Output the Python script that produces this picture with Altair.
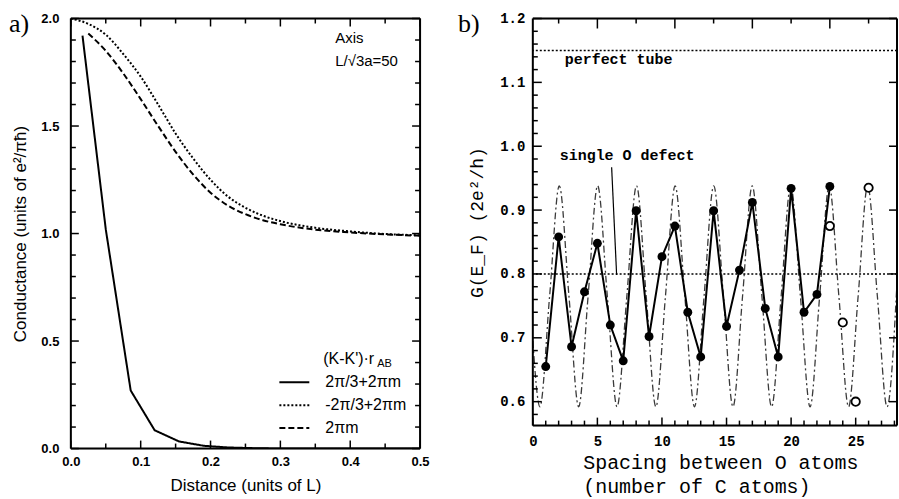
import altair as alt
import pandas as pd

# ---------------- panel a values ----------------
series_names = ["2π/3+2πm", "-2π/3+2πm", "2πm"]
dist_solid = [0.0167, 0.05, 0.0857, 0.12, 0.155, 0.19, 0.225, 0.26, 0.30, 0.40, 0.50]
cond_solid = [1.92, 1.02, 0.27, 0.085, 0.033, 0.013, 0.005, 0.002, 0.0, 0.0, 0.0]
dist_dotted = [0.0, 0.025, 0.05, 0.075, 0.10, 0.125, 0.15, 0.175, 0.20, 0.225, 0.25,
               0.275, 0.30, 0.35, 0.40, 0.45, 0.50]
cond_dotted = [2.0, 1.975, 1.925, 1.835, 1.73, 1.60, 1.465, 1.35, 1.25, 1.172, 1.12,
               1.083, 1.058, 1.027, 1.01, 0.998, 0.992]
dist_dashed = [0.025, 0.05, 0.075, 0.10, 0.125, 0.15, 0.175, 0.20, 0.225, 0.25, 0.275,
               0.30, 0.35, 0.40, 0.45, 0.50]
cond_dashed = [1.93, 1.85, 1.745, 1.625, 1.50, 1.38, 1.275, 1.19, 1.13, 1.09, 1.062,
               1.043, 1.018, 1.005, 0.996, 0.99]

a_x_domain = [0.0, 0.5]
a_y_domain = [0.0, 2.0]
a_x_major = [0.0, 0.1, 0.2, 0.3, 0.4, 0.5]
a_x_minor = [0.05, 0.15, 0.25, 0.35, 0.45]
a_y_major = [0.0, 0.5, 1.0, 1.5, 2.0]
a_y_minor = [0.1, 0.2, 0.3, 0.4, 0.6, 0.7, 0.8, 0.9, 1.1, 1.2, 1.3, 1.4, 1.6, 1.7, 1.8, 1.9]

# ---------------- panel b values ----------------
spacing_filled = list(range(1, 24))
g_filled = [0.655, 0.858, 0.686, 0.772, 0.848, 0.720, 0.664, 0.899, 0.702, 0.827,
            0.875, 0.740, 0.670, 0.899, 0.718, 0.806, 0.912, 0.746, 0.670, 0.934,
            0.740, 0.768, 0.937]
spacing_open = [23, 24, 25, 26]
g_open = [0.875, 0.724, 0.600, 0.935]
sine_x = [0.0, 0.55, 1.30, 2.05, 2.80, 3.55, 4.28, 5.02, 5.77, 6.52, 7.28, 8.03, 8.78,
          9.53, 10.27, 11.02, 11.77, 12.52, 13.26, 14.01, 14.76, 15.50, 16.24, 16.99,
          17.74, 18.49, 19.23, 19.97, 20.72, 21.47, 22.21, 22.95, 23.70, 24.45, 25.19,
          25.93, 26.68, 27.43, 28.2]
sine_g = [0.695, 0.592, 0.765, 0.938, 0.765, 0.592, 0.765, 0.938, 0.765, 0.592, 0.765,
          0.938, 0.765, 0.592, 0.765, 0.938, 0.765, 0.592, 0.765, 0.938, 0.765, 0.592,
          0.765, 0.938, 0.765, 0.592, 0.765, 0.938, 0.765, 0.592, 0.765, 0.938, 0.765,
          0.592, 0.765, 0.938, 0.765, 0.592, 0.786]
ref_levels = [1.15, 0.80]

b_x_domain = [0.0, 28.2]
b_y_domain = [0.5625, 1.2]
b_x_major = [0, 5, 10, 15, 20, 25]
b_x_minor = [v for v in range(1, 29) if v % 5 != 0]
b_x_top_long = [5, 11, 17, 23]
b_x_top_short = [2, 8, 14, 20, 26]
b_y_major = [0.6, 0.7, 0.8, 0.9, 1.0, 1.1, 1.2]
b_y_minor = [round(0.58 + 0.02 * i, 2) for i in range(31) if i % 5 != 1]

A_W, A_H = 350, 431
B_W, B_H = 365, 408

A_DOM_X = alt.Scale(domain=a_x_domain, nice=False, zero=False)
A_DOM_Y = alt.Scale(domain=a_y_domain, nice=False, zero=False)
B_DOM_X = alt.Scale(domain=b_x_domain, nice=False, zero=False)
B_DOM_Y = alt.Scale(domain=b_y_domain, nice=False, zero=False)

# ---------------- axes (one shared spec per channel, used by every layer) ----------------
a_x_main = alt.Axis(orient="bottom", values=a_x_major, format=".1f", ticks=False,
                    domain=False, grid=False,
                    labelFont="Liberation Sans", labelFontSize=13, labelFontWeight="bold",
                    labelColor="black", labelPadding=7, labelFlush=False,
                    title="Distance (units of L)", titleFont="Liberation Sans",
                    titleFontSize=17, titleFontWeight="normal", titleColor="black",
                    titlePadding=9)
a_y_main = alt.Axis(orient="left", values=a_y_major, format=".1f", ticks=False,
                    domain=False, grid=False,
                    labelFont="Liberation Sans", labelFontSize=13, labelFontWeight="bold",
                    labelColor="black", labelPadding=12, labelFlush=False,
                    title="Conductance (units of e²/πħ)", titleFont="Liberation Sans",
                    titleFontSize=17, titleFontWeight="normal", titleColor="black",
                    titlePadding=11)
b_x_main = alt.Axis(orient="bottom", values=b_x_major, format="d", ticks=False,
                    domain=False, grid=False,
                    labelFont="Liberation Mono", labelFontSize=14, labelFontWeight="bold",
                    labelColor="black", labelPadding=9, labelFlush=False,
                    title=["Spacing between O atoms", "(number of C atoms)"],
                    titleFont="Liberation Mono", titleFontSize=20, titleFontWeight="normal",
                    titleColor="black", titleAlign="left", titleAnchor="start",
                    titleBaseline="top", titleX=50, titleY=27, titleLineHeight=24)
b_y_main = alt.Axis(orient="left", values=b_y_major, format=".1f", ticks=False,
                    domain=False, grid=False,
                    labelFont="Liberation Mono", labelFontSize=14, labelFontWeight="bold",
                    labelColor="black", labelPadding=8, labelFlush=False,
                    title="G(E_F)  (2e²/h)", titleFont="Liberation Mono", titleFontSize=18,
                    titleFontWeight="normal", titleColor="black", titlePadding=13)

# ---------------- inward tick marks and frame (drawn from the tick-value lists) ----------------
def x_ticks(values, scale, axis, y_from, y_to, width=1.5):
    return alt.Chart(pd.DataFrame({"v": values})).mark_rule(
        color="black", strokeWidth=width).encode(
        x=alt.X("v:Q", scale=scale, axis=axis), y=alt.value(y_from), y2=alt.value(y_to))

def y_ticks(values, scale, axis, x_from, x_to, width=1.5):
    return alt.Chart(pd.DataFrame({"v": values})).mark_rule(
        color="black", strokeWidth=width).encode(
        y=alt.Y("v:Q", scale=scale, axis=axis), x=alt.value(x_from), x2=alt.value(x_to))

a_ticks = [
    x_ticks(a_x_domain, A_DOM_X, a_x_main, 0, A_H, 2),
    y_ticks(a_y_domain, A_DOM_Y, a_y_main, 0, A_W, 2),
    x_ticks(a_x_major, A_DOM_X, a_x_main, A_H, A_H - 8),
    x_ticks(a_x_minor, A_DOM_X, a_x_main, A_H, A_H - 5),
    x_ticks(a_x_major, A_DOM_X, a_x_main, 0, 8),
    x_ticks(a_x_minor, A_DOM_X, a_x_main, 0, 5),
    y_ticks(a_y_major, A_DOM_Y, a_y_main, 0, 8),
    y_ticks(a_y_minor, A_DOM_Y, a_y_main, 0, 5),
    y_ticks(a_y_major, A_DOM_Y, a_y_main, A_W, A_W - 8),
    y_ticks(a_y_minor, A_DOM_Y, a_y_main, A_W, A_W - 5),
]
b_ticks = [
    x_ticks(b_x_domain, B_DOM_X, b_x_main, 0, B_H, 2),
    y_ticks(b_y_domain, B_DOM_Y, b_y_main, 0, B_W, 2),
    x_ticks(b_x_major, B_DOM_X, b_x_main, B_H, B_H - 8),
    x_ticks(b_x_minor, B_DOM_X, b_x_main, B_H, B_H - 5),
    x_ticks(b_x_top_long, B_DOM_X, b_x_main, 0, 10),
    x_ticks(b_x_top_short, B_DOM_X, b_x_main, 0, 5),
    y_ticks(b_y_major, B_DOM_Y, b_y_main, 0, 9),
    y_ticks(b_y_minor, B_DOM_Y, b_y_main, 0, 5),
    y_ticks(b_y_major, B_DOM_Y, b_y_main, B_W, B_W - 8),
]

# ---------------- panel a ----------------
dash_scale = alt.Scale(domain=series_names, range=[[1, 0], [2, 2], [6, 3]])
dash_legend = alt.Legend(orient="none", legendX=215.5, legendY=356, title=None,
                         symbolType="M-2,0H2", symbolSize=225, symbolStrokeWidth=2,
                         symbolStrokeColor="black", labelFont="Liberation Sans",
                         labelFontSize=16, labelColor="black", labelOffset=22.5,
                         rowPadding=6, padding=0)
dash_enc = alt.StrokeDash("s:N", scale=dash_scale, legend=dash_legend)

df_solid = pd.DataFrame({"d": dist_solid, "c": cond_solid, "s": series_names[0]})
df_dotted = pd.DataFrame({"d": dist_dotted, "c": cond_dotted, "s": series_names[1]})
df_dashed = pd.DataFrame({"d": dist_dashed, "c": cond_dashed, "s": series_names[2]})

a1 = alt.Chart(df_solid).mark_line(color="black", strokeWidth=2, clip=True).encode(
    x=alt.X("d:Q", scale=A_DOM_X, axis=a_x_main),
    y=alt.Y("c:Q", scale=A_DOM_Y, axis=a_y_main),
    strokeDash=dash_enc)
a2 = alt.Chart(df_dotted).mark_line(color="black", strokeWidth=2, interpolate="monotone",
                                    clip=True).encode(
    x=alt.X("d:Q", scale=A_DOM_X, axis=a_x_main),
    y=alt.Y("c:Q", scale=A_DOM_Y, axis=a_y_main),
    strokeDash=dash_enc)
a3 = alt.Chart(df_dashed).mark_line(color="black", strokeWidth=2, interpolate="monotone",
                                    clip=True).encode(
    x=alt.X("d:Q", scale=A_DOM_X, axis=a_x_main),
    y=alt.Y("c:Q", scale=A_DOM_Y, axis=a_y_main),
    strokeDash=dash_enc)

one = alt.Data(values=[{"k": 0}])

def label(txt, x, y, font, size, weight="normal", baseline="middle"):
    return alt.Chart(one).mark_text(text=txt, font=font, fontSize=size, fontWeight=weight,
                                    align="left", baseline=baseline, color="black").encode(
        x=alt.value(x), y=alt.value(y))

a_texts = [
    label("a)", -62, 14, "Liberation Serif", 26, baseline="alphabetic"),
    label("Axis", 265, 20, "Liberation Sans", 15),
    label("L/√3a=50", 265, 43, "Liberation Sans", 15),
    label("(K-K')·r", 253, 341, "Liberation Sans", 16),
    label("AB", 307, 346, "Liberation Sans", 11),
]

panel_a = alt.layer(a1, a2, a3, *a_ticks, *a_texts).properties(width=A_W, height=A_H)

# ---------------- panel b ----------------
df_sine = pd.DataFrame({"n": sine_x, "g": sine_g})
df_filled = pd.DataFrame({"n": spacing_filled, "g": g_filled})
df_open = pd.DataFrame({"n": spacing_open, "g": g_open})
df_ref = pd.DataFrame({"g": ref_levels})

b1 = alt.Chart(df_sine).mark_line(color="#3a3a3a", strokeWidth=1.3, strokeDash=[7, 3, 2, 3],
                                  interpolate="monotone", clip=True).encode(
    x=alt.X("n:Q", scale=B_DOM_X, axis=b_x_main),
    y=alt.Y("g:Q", scale=B_DOM_Y, axis=b_y_main))
b2 = alt.Chart(df_ref).mark_rule(color="black", strokeWidth=1.5, strokeDash=[2, 2]).encode(
    y=alt.Y("g:Q", scale=B_DOM_Y, axis=b_y_main))
b3 = alt.Chart(df_filled).mark_line(color="black", strokeWidth=2).encode(
    x=alt.X("n:Q", scale=B_DOM_X, axis=b_x_main),
    y=alt.Y("g:Q", scale=B_DOM_Y, axis=b_y_main))
b4 = alt.Chart(df_filled).mark_circle(color="black", size=80, opacity=1).encode(
    x=alt.X("n:Q", scale=B_DOM_X, axis=b_x_main),
    y=alt.Y("g:Q", scale=B_DOM_Y, axis=b_y_main))
b5 = alt.Chart(df_open).mark_point(shape="circle", filled=True, fill="white", stroke="black",
                                   strokeWidth=1.8, size=70, opacity=1).encode(
    x=alt.X("n:Q", scale=B_DOM_X, axis=b_x_main),
    y=alt.Y("g:Q", scale=B_DOM_Y, axis=b_y_main))
b_pointer = alt.Chart(one).mark_rule(color="black", strokeWidth=1.2).encode(
    x=alt.value(79), y=alt.value(149), x2=alt.value(84), y2=alt.value(257))
b_texts = [
    label("b)", -75, 14, "Liberation Serif", 26, baseline="alphabetic"),
    label("perfect tube", 32, 41, "Liberation Mono", 15, weight="bold"),
    label("single O defect", 27, 137, "Liberation Mono", 15, weight="bold"),
]

panel_b = alt.layer(b1, b2, b3, b4, b5, b_pointer, *b_ticks, *b_texts).properties(
    width=B_W, height=B_H)

chart = alt.hconcat(panel_a, panel_b, spacing=113, bounds="flush").resolve_legend(
    strokeDash="independent").configure_view(stroke="black", strokeWidth=2).configure(
    padding={"left": 8, "top": 10, "right": 0, "bottom": 0}, background="white")

chart.save("out.html", embed_options={"renderer": "svg", "actions": False})
